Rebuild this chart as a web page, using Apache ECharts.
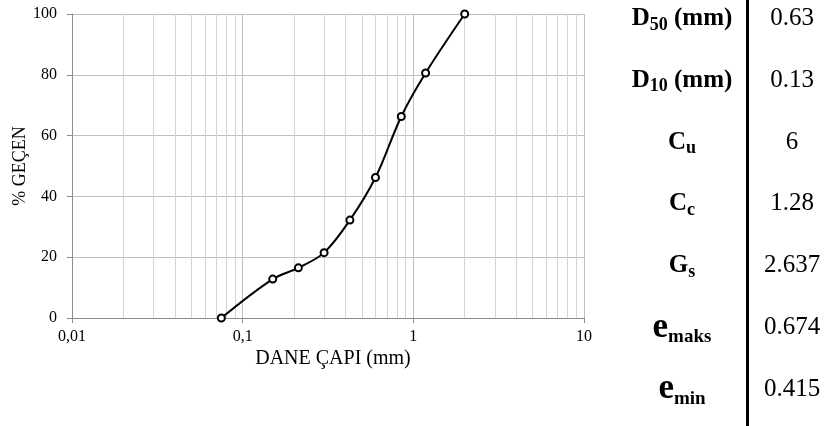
<!DOCTYPE html>
<html>
<head>
<meta charset="utf-8">
<script src="https://cdn.jsdelivr.net/npm/echarts@6/dist/echarts.min.js"></script>
<style>
  html, body { margin: 0; padding: 0; background: #fff; }
  #chart { width: 827px; height: 426px; }
</style>
</head>
<body>
<div id="chart"></div>
<script>
// Sieve analysis: grain size (mm) and percent passing
var grainSize = [0.075, 0.15, 0.212, 0.3, 0.425, 0.6, 0.85, 1.18, 2];
var percentPassing = [0, 12.8, 16.5, 21.5, 32.2, 46.2, 66.3, 80.6, 100];

// Minor log grid: 2..9 within each decade
var decades = [0.01, 0.1, 1];
var minorMultipliers = [2, 3, 4, 5, 6, 7, 8, 9];

// Soil parameters table: [symbol, subscript, suffix]
var paramLabels = [
  ['D', '50', ' (mm)'],
  ['D', '10', ' (mm)'],
  ['C', 'u', ''],
  ['C', 'c', ''],
  ['G', 's', ''],
  ['e', 'maks', ''],
  ['e', 'min', '']
];
var paramValues = ['0.63', '0.13', '6', '1.28', '2.637', '0.674', '0.415'];

var FONT = '"Liberation Serif", "Times New Roman", serif';

var minorLines = [];
decades.forEach(function (d) {
  minorMultipliers.forEach(function (m) {
    minorLines.push({ xAxis: +(d * m).toPrecision(6) });
  });
});

var points = grainSize.map(function (g, i) { return [g, percentPassing[i]]; });

var graphics = [];
graphics.push({
  type: 'line',
  shape: { x1: 747.5, y1: 0, x2: 747.5, y2: 426 },
  style: { stroke: '#000', lineWidth: 3 },
  silent: true
});
paramLabels.forEach(function (p, i) {
  var cy = 18.5 + i * 61.8;
  var isE = p[0] === 'e';
  graphics.push({
    type: 'text',
    x: 682, y: cy,
    style: {
      text: '{' + (isE ? 'e' : 'b') + '|' + p[0] + '}{' + (isE ? 'm' : 's') + '|' + p[1] + '}' +
            (p[2] ? '{b|' + p[2] + '}' : ''),
      align: 'center',
      verticalAlign: 'middle',
      rich: {
        b: { fontFamily: FONT, fontWeight: 'bold', fontSize: 25, fill: '#000', verticalAlign: 'bottom' },
        e: { fontFamily: FONT, fontWeight: 'bold', fontSize: 35, fill: '#000', verticalAlign: 'bottom' },
        s: { fontFamily: FONT, fontWeight: 'bold', fontSize: 18, fill: '#000', verticalAlign: 'bottom', padding: [0, 0, -3, 0] },
        m: { fontFamily: FONT, fontWeight: 'bold', fontSize: 19, fill: '#000', verticalAlign: 'bottom', padding: [0, 0, -2, 0] }
      }
    }
  });
  graphics.push({
    type: 'text',
    x: 792, y: cy,
    style: {
      text: paramValues[i],
      align: 'center',
      verticalAlign: 'middle',
      fontFamily: FONT,
      fontSize: 25,
      fill: '#000'
    }
  });
});

var chart = echarts.init(document.getElementById('chart'), null, { renderer: 'canvas' });
chart.setOption({
  animation: false,
  backgroundColor: '#fff',
  textStyle: { fontFamily: FONT },
  grid: { left: 72, right: 243, top: 14, bottom: 108, containLabel: false, outerBoundsMode: 'none' },
  xAxis: {
    type: 'log',
    logBase: 10,
    min: 0.01,
    max: 10,
    name: 'DANE ÇAPI (mm)',
    nameLocation: 'middle',
    nameGap: 31,
    nameMoveOverlap: false,
    nameTextStyle: { fontFamily: FONT, fontSize: 20, color: '#000', padding: [0, 0, 0, 10] },
    axisLine: { show: true, lineStyle: { color: '#8c8c8c', width: 1 } },
    axisTick: { show: true, length: 5, lineStyle: { color: '#8c8c8c' } },
    axisLabel: {
      fontFamily: FONT, fontSize: 16, color: '#000', margin: 11,
      formatter: function (v) { return String(v).replace('.', ','); }
    },
    splitLine: { show: true, lineStyle: { color: '#bfbfbf', width: 1 } }
  },
  yAxis: {
    type: 'value',
    min: 0,
    max: 100,
    interval: 20,
    name: '% GEÇEN',
    nameLocation: 'middle',
    nameGap: 43,
    nameMoveOverlap: false,
    nameRotate: 90,
    nameTextStyle: { fontFamily: FONT, fontSize: 18, color: '#000' },
    axisLine: { show: true, lineStyle: { color: '#8c8c8c', width: 1 } },
    axisTick: { show: true, length: 5, lineStyle: { color: '#8c8c8c' } },
    axisLabel: { fontFamily: FONT, fontSize: 16, color: '#000', margin: 15 },
    splitLine: { show: true, lineStyle: { color: '#bfbfbf', width: 1 } }
  },
  series: [
    {
      type: 'line',
      data: [],
      silent: true,
      markLine: {
        silent: true,
        symbol: ['none', 'none'],
        label: { show: false },
        lineStyle: { color: '#d4d4d4', width: 1, type: 'solid' },
        data: minorLines,
        animation: false
      },
      z: 1
    },
    {
      type: 'line',
      data: points,
      smooth: 0.35,
      symbol: 'emptyCircle',
      symbolSize: 7,
      lineStyle: { color: '#000', width: 2 },
      itemStyle: { color: '#000', borderColor: '#000', borderWidth: 1 },
      z: 5
    }
  ],
  graphic: graphics
});
</script>
</body>
</html>
